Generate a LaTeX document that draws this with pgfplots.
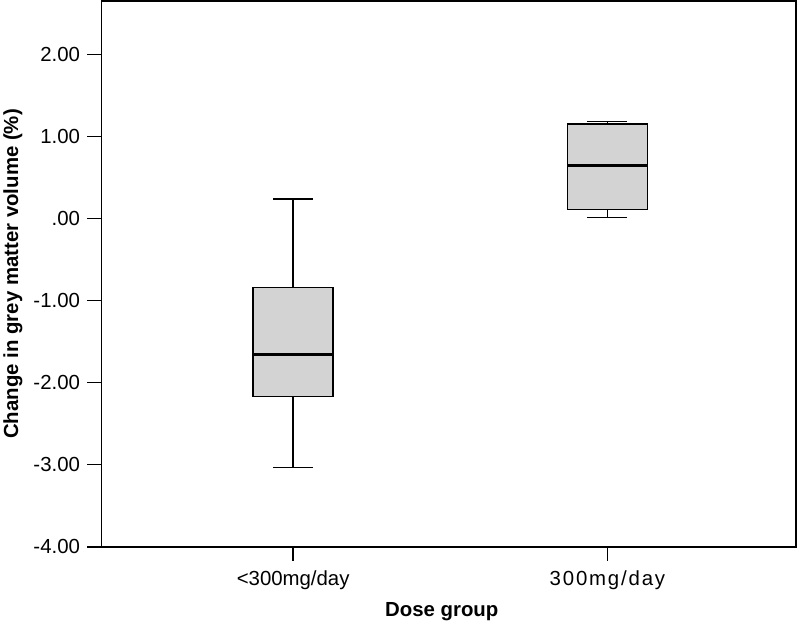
\documentclass[border=0pt]{standalone}
\usepackage{fontspec}
\setmainfont{Liberation Sans}
\usepackage{pgfplots}
\pgfplotsset{compat=1.18}
\usepgfplotslibrary{statistics}
\definecolor{boxfill}{RGB}{211,211,211}
\begin{document}
\begin{tikzpicture}
\begin{axis}[
  scale only axis, width=696bp, height=547bp,
  xmin=0.39, xmax=2.6, ymin=-4, ymax=2.65,
  xtick={1,2}, xticklabels={<300mg/day,{\addfontfeature{LetterSpace=9}300mg/day}},
  ytick={-4,-3,-2,-1,0,1,2},
  yticklabels={-4.00,-3.00,-2.00,-1.00,.00,1.00,2.00},
  tick pos=left, tick align=outside, major tick length=14bp,
  axis line style={line width=1.4bp},
  every tick/.style={line width=1.4bp, black},
  yticklabel style={font=\fontsize{20.5}{24}\selectfont, xshift=-4bp},
  xticklabel style={font=\fontsize{20.5}{24}\selectfont, yshift=-6bp},
  label style={font=\fontsize{20.5}{24}\selectfont\bfseries},
  xlabel={Dose group},
  ylabel={Change in grey matter volume (\%)},
  xlabel style={at={(axis description cs:0.49,-0.128)}, anchor=base},
  ylabel style={at={(axis description cs:-0.12,0.5)}, anchor=base},
  boxplot/draw direction=y,
  boxplot/every median/.style={line width=3bp},
  clip=false,
]
\addplot[boxplot prepared={median=-1.66, upper quartile=-0.84, lower quartile=-2.17,
  upper whisker=0.24, lower whisker=-3.03, draw position=1,
  box extend=0.254, whisker extend=0.127},
  draw=black, fill=boxfill, line width=1.5bp] coordinates {};
\addplot[boxplot prepared={median=0.65, upper quartile=1.15, lower quartile=0.11,
  upper whisker=1.18, lower whisker=0.01, draw position=2,
  box extend=0.254, whisker extend=0.127},
  draw=black, fill=boxfill, line width=1.5bp] coordinates {};
\end{axis}
\path[use as bounding box] (-100bp,-76bp) rectangle (700bp,548bp);
\end{tikzpicture}
\end{document}
